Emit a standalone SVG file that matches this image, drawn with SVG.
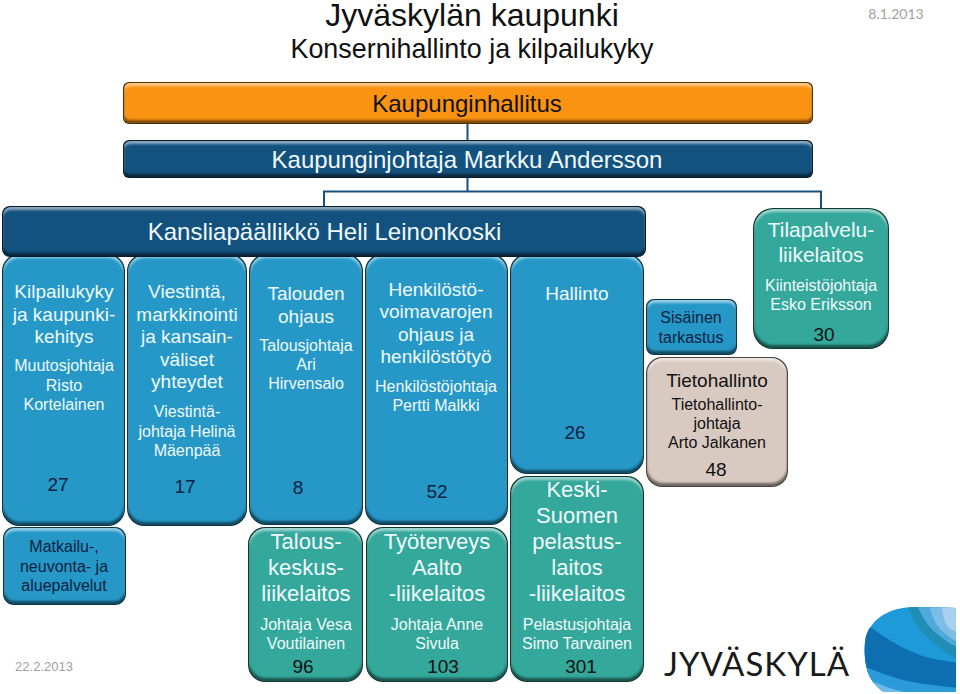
<svg xmlns="http://www.w3.org/2000/svg" width="960" height="694" viewBox="0 0 960 694">
<style>
text{font-family:"Liberation Sans",Arial,sans-serif;text-anchor:middle}
.box{filter:url(#bevel)}
.orange{fill:#fb9312}.navy{fill:#13527f}.blue{fill:#2598c8}.teal{fill:#33a89b}.beige{fill:#d9cac1}
.w{fill:#f1f9fb}.k{fill:#111}.d{fill:#0a1f3f}
.s32{font-size:32px}.s28{font-size:28px}.s24{font-size:24px}.s22{font-size:22px}.s21{font-size:21px}.s19{font-size:19px}.s16{font-size:16px}
.conn{fill:none;stroke:#17507c;stroke-width:2}
</style>
<defs>
<filter id="bevel" x="-4%" y="-6%" width="108%" height="112%" color-interpolation-filters="sRGB">
<feMorphology in="SourceGraphic" operator="dilate" radius="1" result="grown"/>
<feColorMatrix in="grown" type="matrix" values=".34 0 0 0 0 0 .34 0 0 0 0 0 .34 0 0 0 0 0 1 0" result="edge"/>
<feGaussianBlur in="SourceAlpha" stdDeviation="1.2" result="blur"/>
<feOffset in="blur" dy="3" result="down"/>
<feComposite in="SourceAlpha" in2="down" operator="out" result="topMask"/>
<feFlood flood-color="#fff" flood-opacity=".5"/>
<feComposite in2="topMask" operator="in" result="hi"/>
<feOffset in="blur" dy="-3" result="up"/>
<feComposite in="SourceAlpha" in2="up" operator="out" result="botMask"/>
<feFlood flood-color="#000" flood-opacity=".5"/>
<feComposite in2="botMask" operator="in" result="lo"/>
<feMerge><feMergeNode in="edge"/><feMergeNode in="SourceGraphic"/><feMergeNode in="hi"/><feMergeNode in="lo"/></feMerge>
</filter>
<clipPath id="blob"><path d="M956 608L915 607C890 607 872 618 866 636C863 650 865 668 870 677C874 684 878 688 884 692L956 692Z"/></clipPath>
</defs>

<g id="title">
<text class="s32 k" x="472" y="26">Jyväskylän kaupunki</text>
<text class="s28 k" x="472" y="58" textLength="363" lengthAdjust="spacingAndGlyphs">Konsernihallinto ja kilpailukyky</text>
</g>
<text id="date-top" x="896" y="19" style="font-family:Lato,sans-serif;font-size:14px;fill:#a0a0a0">8.1.2013</text>
<text id="date-bottom" x="44" y="671" style="font-size:13px;fill:#a0a0a0">22.2.2013</text>

<g id="connectors">
<path class="conn" d="M467.5 124V141M467.5 178V191.500M324 207V191.500H821V208"/>
</g>

<g id="kaupunginhallitus"><rect class="box orange" x="124" y="83" width="688" height="40" rx="6"/><text class="s24 k" x="467" y="112">Kaupunginhallitus</text></g>
<g id="kaupunginjohtaja"><rect class="box navy" x="124" y="141" width="688" height="36" rx="6"/><text class="s24 w" x="467" y="168">Kaupunginjohtaja Markku Andersson</text></g>

<g id="kilpailukyky"><rect class="box blue" x="3" y="255" width="121" height="270" rx="17"/>
<text class="s19 w" x="64" y="298">Kilpailukyky</text><text class="s19 w" x="64" y="321">ja kaupunki-</text><text class="s19 w" x="64" y="343">kehitys</text>
<text class="s16 w" x="64" y="371">Muutosjohtaja</text><text class="s16 w" x="64" y="391">Risto</text><text class="s16 w" x="64" y="410">Kortelainen</text>
<text class="s19 d" x="58" y="491">27</text></g>
<g id="viestinta"><rect class="box blue" x="128" y="255" width="118" height="270" rx="17"/>
<text class="s19 w" x="187" y="298">Viestintä,</text><text class="s19 w" x="187" y="321">markkinointi</text><text class="s19 w" x="187" y="343">ja kansain-</text><text class="s19 w" x="187" y="366">väliset</text><text class="s19 w" x="187" y="388">yhteydet</text>
<text class="s16 w" x="187" y="417">Viestintä-</text><text class="s16 w" x="187" y="437">johtaja Helinä</text><text class="s16 w" x="187" y="456">Mäenpää</text>
<text class="s19 d" x="185" y="493">17</text></g>
<g id="talouden-ohjaus"><rect class="box blue" x="250" y="255" width="112" height="269" rx="17"/>
<text class="s19 w" x="306" y="300">Talouden</text><text class="s19 w" x="306" y="323">ohjaus</text>
<text class="s16 w" x="306" y="351">Talousjohtaja</text><text class="s16 w" x="306" y="370">Ari</text><text class="s16 w" x="306" y="389">Hirvensalo</text>
<text class="s19 d" x="298" y="494">8</text></g>
<g id="henkilosto"><rect class="box blue" x="366" y="255" width="141" height="269" rx="17"/>
<text class="s19 w" x="436" y="296">Henkilöstö-</text><text class="s19 w" x="436" y="318">voimavarojen</text><text class="s19 w" x="436" y="341">ohjaus ja</text><text class="s19 w" x="436" y="363">henkilöstötyö</text>
<text class="s16 w" x="436" y="392">Henkilöstöjohtaja</text><text class="s16 w" x="436" y="411">Pertti Malkki</text>
<text class="s19 d" x="437" y="498">52</text></g>
<g id="hallinto"><rect class="box blue" x="511" y="255" width="132" height="218" rx="17"/>
<text class="s19 w" x="577" y="300">Hallinto</text>
<text class="s19 d" x="575" y="439">26</text></g>

<g id="kansliapaallikko"><rect class="box navy" x="3" y="207" width="642" height="49" rx="8"/><text class="s24 w" x="324.500" y="240">Kansliapäällikkö Heli Leinonkoski</text></g>

<g id="sisainen-tarkastus"><rect class="box blue" x="647" y="300" width="89" height="54" rx="8"/>
<text class="s16 d" x="691" y="323">Sisäinen</text><text class="s16 d" x="691" y="343">tarkastus</text></g>
<g id="tietohallinto"><rect class="box beige" x="647" y="358" width="140" height="128" rx="16"/>
<text class="s19 k" x="717" y="387">Tietohallinto</text>
<text class="s16 k" x="717" y="410">Tietohallinto-</text><text class="s16 k" x="717" y="429">johtaja</text><text class="s16 k" x="717" y="448">Arto Jalkanen</text>
<text class="s19 k" x="716" y="476">48</text></g>
<g id="tilapalvelu"><rect class="box teal" x="754" y="209" width="134" height="139" rx="20"/>
<text class="s21 w" x="821" y="237">Tilapalvelu-</text><text class="s21 w" x="821" y="262">liikelaitos</text>
<text class="s16 w" x="821" y="291">Kiinteistöjohtaja</text><text class="s16 w" x="821" y="310">Esko Eriksson</text>
<text class="s19 k" x="824" y="341">30</text></g>

<g id="matkailu"><rect class="box blue" x="4" y="528" width="121" height="76" rx="11"/>
<text class="s16 d" x="64" y="552">Matkailu-,</text><text class="s16 d" x="64" y="572">neuvonta- ja</text><text class="s16 d" x="64" y="591">aluepalvelut</text></g>
<g id="talouskeskus"><rect class="box teal" x="249" y="528" width="113" height="153" rx="17"/>
<text class="s22 w" x="306" y="549">Talous-</text><text class="s22 w" x="306" y="575">keskus-</text><text class="s22 w" x="306" y="601">liikelaitos</text>
<text class="s16 w" x="306" y="630">Johtaja Vesa</text><text class="s16 w" x="306" y="649">Voutilainen</text>
<text class="s19 k" x="303" y="673">96</text></g>
<g id="tyoterveys"><rect class="box teal" x="367" y="528" width="140" height="153" rx="17"/>
<text class="s22 w" x="437" y="549">Työterveys</text><text class="s22 w" x="437" y="575">Aalto</text><text class="s22 w" x="437" y="601">-liikelaitos</text>
<text class="s16 w" x="437" y="630">Johtaja Anne</text><text class="s16 w" x="437" y="649">Sivula</text>
<text class="s19 k" x="443" y="673">103</text></g>
<g id="pelastuslaitos"><rect class="box teal" x="511" y="477" width="132" height="204" rx="17"/>
<text class="s22 w" x="577" y="497">Keski-</text><text class="s22 w" x="577" y="523">Suomen</text><text class="s22 w" x="577" y="549">pelastus-</text><text class="s22 w" x="577" y="575">laitos</text><text class="s22 w" x="577" y="601">-liikelaitos</text>
<text class="s16 w" x="577" y="630">Pelastusjohtaja</text><text class="s16 w" x="577" y="649">Simo Tarvainen</text>
<text class="s19 k" x="581" y="673">301</text></g>

<g id="logo">
<text x="756.500" y="676" style="font-family:Lato,sans-serif;font-size:33px;fill:#1a1a1a" textLength="185" lengthAdjust="spacing">JYVÄSKYLÄ</text>
<g clip-path="url(#blob)">
<rect x="860" y="600" width="100" height="94" fill="#1f9ad8"/>
<path d="M860 625L872 628C880 634 886 638 893 642C903 648 912 652 920 655C932 659 945 661 960 663V692H860Z" fill="#0d6fb0"/>
<path d="M860 665L868 668C880 673 892 677 903 680C920 684 940 686 960 688V694H860Z" fill="#2a9ad8"/>
<path d="M860 678L877 683C885 687 895 690 905 692V694H860Z" fill="#70bbe8"/>
<path d="M905 600C912 618 918 628 925 635C935 644 945 655 960 660V600Z" fill="#1f8db5"/>
<path d="M915 600C922 618 928 626 935 632C942 638 950 645 960 648V600Z" fill="#4fa9dc"/>
<path d="M928 600C932 618 936 625 942 631C947 635 952 640 960 643V600Z" fill="#7cbde6"/>
<path d="M941 600C942 612 944 622 948 627C951 630 955 632 960 632V600Z" fill="#a7d1ef"/>
</g>
</g>
</svg>
